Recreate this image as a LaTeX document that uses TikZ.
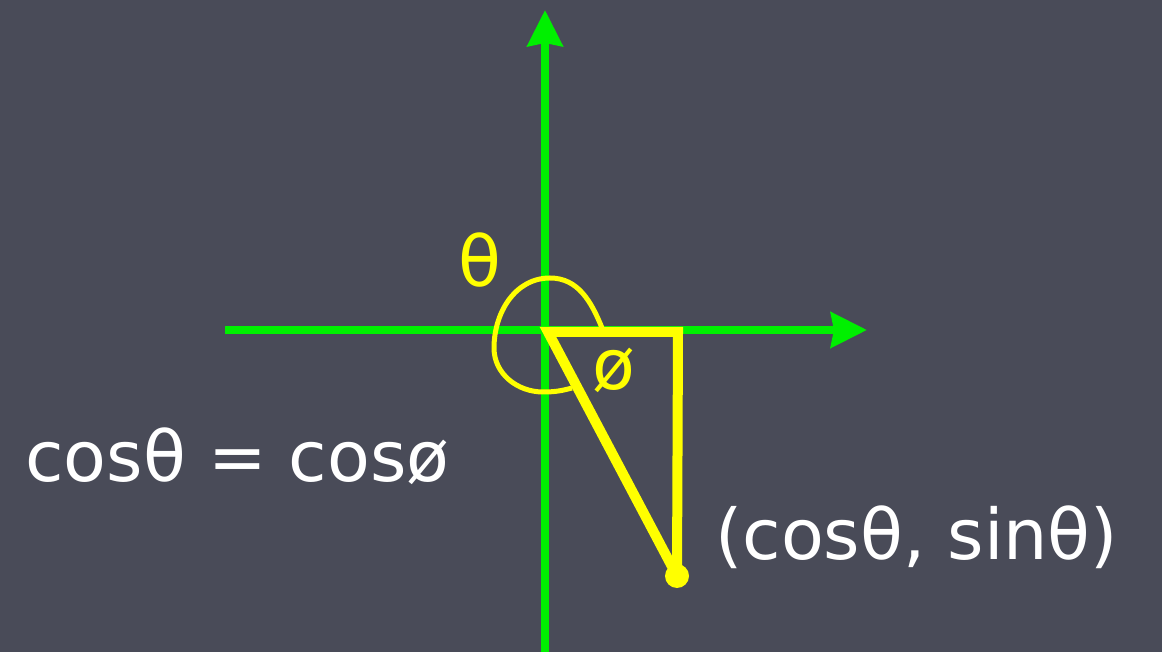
\documentclass[tikz,border=0pt]{standalone}
\usepackage{fontspec}
\setmainfont{DejaVu Sans}
\usetikzlibrary{arrows.meta}
\definecolor{slate}{RGB}{73,75,88}
\definecolor{axisgreen}{RGB}{0,240,0}
\definecolor{legyellow}{RGB}{255,255,0}
\tikzset{
  axis/.style={axisgreen, line width=8pt, -{Stealth[length=36pt,width=35pt,inset=3pt]}},
  leg/.style={legyellow, line width=10pt, miter limit=2.5},
  lbl/.style={inner sep=0pt, font=\fontsize{70}{80}\selectfont},
}
\begin{document}
\begin{tikzpicture}[x=1pt,y=1pt]
    % Background
    \fill[slate] (0,0) rectangle (1162,652);
    \useasboundingbox (0,0) rectangle (1162,652);

    % Points
    \coordinate (O) at (545,322);
    \coordinate (xstart) at (225,322);
    \coordinate (xend) at (867,322);
    \coordinate (ystart) at (545,0);
    \coordinate (yend) at (545,642);
    \coordinate (A) at (548,320);
    \coordinate (B) at (678,320);
    \coordinate (P) at (677,76);

    % Draw axes
    \draw[axis] (xstart) -- (xend);
    \draw[axis] (ystart) -- (yend);

    % Draw triangle
    \draw[leg] (A) -- (B) -- (P) -- cycle;
    \fill[legyellow] (P) circle (12);

    % Angle loop
    \draw[legyellow, line width=5pt] (602,324) to[out=112,in=0] (550,374)
        to[out=180,in=90] (494,304) to[out=-90,in=180] (543,260)
        to[out=0,in=195] (572,264);

    % Labels
    \node[lbl, legyellow] (thetalbl) at (480,392) {θ};
    \node[lbl, legyellow] (philbl) at (614,282) {ø};
    \node[lbl, white, anchor=base west] (eqlbl) at (25,170) {cosθ = cosø};
    \node[lbl, white, anchor=base west] (ptlbl) at (715,92) {(cosθ, sinθ)};
\end{tikzpicture}
\end{document}
